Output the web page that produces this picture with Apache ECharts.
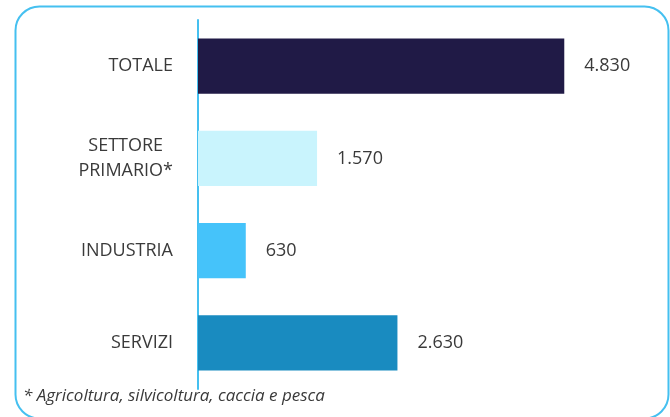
<!DOCTYPE html>
<html>
<head>
<meta charset="utf-8">
<script src="https://cdn.jsdelivr.net/npm/echarts@6/dist/echarts.min.js"></script>
<style>
    html, body { margin: 0; padding: 0; background: #fff; }
    #main { width: 670px; height: 417px; }
</style>
</head>
<body>
<div id="main"></div>
<script>
    // dati del grafico
    var categories = ['TOTALE', 'SETTORE\nPRIMARIO*', 'INDUSTRIA', 'SERVIZI'];
    var values = [4830, 1570, 630, 2630];
    var barColors = ['#201a46', '#c9f4fd', '#45c3fa', '#198bc0'];
    var footnote = '* Agricoltura, silvicoltura, caccia e pesca';

    var myChart = echarts.init(document.getElementById('main'));

    var textColor = '#3a3a3a';
    var font = '"Open Sans", sans-serif';

    myChart.setOption({
        backgroundColor: '#ffffff',
        animation: false,
        grid: { left: 198, right: 17, top: 20, bottom: 28 },
        graphic: [
            {
                type: 'rect',
                left: 13, top: 4,
                shape: { width: 653, height: 412, r: 24 },
                style: { fill: 'none', stroke: '#45c0f0', lineWidth: 2 },
                z: -1
            },
            {
                type: 'text',
                left: 23, top: 388,
                style: {
                    text: footnote,
                    fill: textColor,
                    font: 'italic 17px ' + font
                }
            }
        ],
        xAxis: {
            type: 'value',
            min: 0,
            max: 6000,
            show: false
        },
        yAxis: {
            type: 'category',
            inverse: true,
            data: categories,
            axisLine: { show: true, lineStyle: { color: '#45c0f0', width: 2 } },
            axisTick: { show: false },
            axisLabel: {
                margin: 25,
                color: textColor,
                fontFamily: font,
                fontSize: 18,
                lineHeight: 25,
                formatter: function (v) {
                    return v.split('\n').map(function (s) { return '{c|' + s + '}'; }).join('\n');
                },
                rich: {
                    c: { align: 'center', color: textColor, fontFamily: font, fontSize: 18, lineHeight: 25 }
                }
            }
        },
        series: [{
            type: 'bar',
            barCategoryGap: '40%',
            data: values.map(function (v, i) {
                return { value: v, itemStyle: { color: barColors[i] } };
            }),
            label: {
                show: true,
                position: 'right',
                distance: 20,
                color: textColor,
                fontFamily: font,
                fontSize: 18,
                formatter: function (p) {
                    return p.value.toLocaleString('it-IT');
                }
            }
        }]
    });
</script>
</body>
</html>
